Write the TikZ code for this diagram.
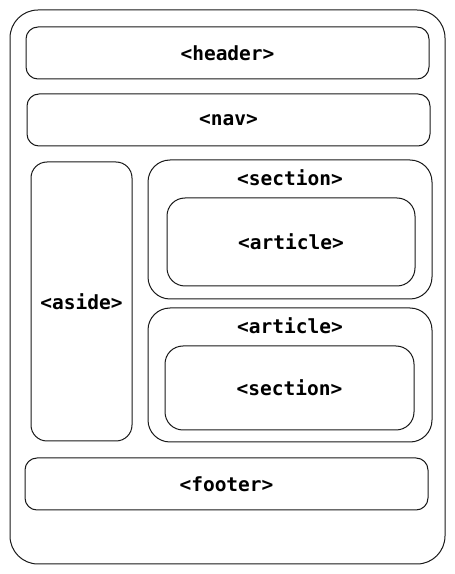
\documentclass[tikz,border=0pt]{standalone}
\usepackage{fontspec}
\setmonofont{DejaVu Sans Mono}
\usetikzlibrary{positioning}

\tikzset{
    box/.style={draw=black!90, line width=1pt, rectangle, inner sep=0pt,
        font=\ttfamily\bfseries\fontsize{19.5}{23}\selectfont},
    tag/.style={font=\ttfamily\bfseries\fontsize{19.5}{23}\selectfont, inner sep=0pt}
}

\begin{document}
\begin{tikzpicture}[x=1pt,y=1pt]
    \useasboundingbox (0,0) rectangle (455,574);

    % Page
    \node[box,rounded corners=28pt,minimum width=435,minimum height=554] (page) at (227.5,287) {};

    % Top bars
    \node[box,rounded corners=12pt,minimum width=403,minimum height=52] (header) at (227.5,521) {<header>};
    \node[box,rounded corners=12pt,minimum width=403,minimum height=52] (nav) at (228.5,454) {<nav>};

    % Side column
    \node[box,rounded corners=16pt,minimum width=101,minimum height=279] (aside) at (81.5,272.5) {<aside>};

    % Main column
    \node[box,rounded corners=22pt,minimum width=284,minimum height=139] (section) at (290,344.5) {};
    \node[tag] (sectiontag) at (290,396) {<section>};
    \node[box,rounded corners=18pt,minimum width=248,minimum height=88] (innerarticle) at (291,332) {<article>};

    \node[box,rounded corners=22pt,minimum width=284,minimum height=134] (article) at (290,199) {};
    \node[tag] (articletag) at (290,248) {<article>};
    \node[box,rounded corners=18pt,minimum width=249,minimum height=84] (innersection) at (289.5,186) {<section>};

    % Bottom bar
    \node[box,rounded corners=12pt,minimum width=403,minimum height=52] (footer) at (226.5,90) {<footer>};
\end{tikzpicture}
\end{document}
